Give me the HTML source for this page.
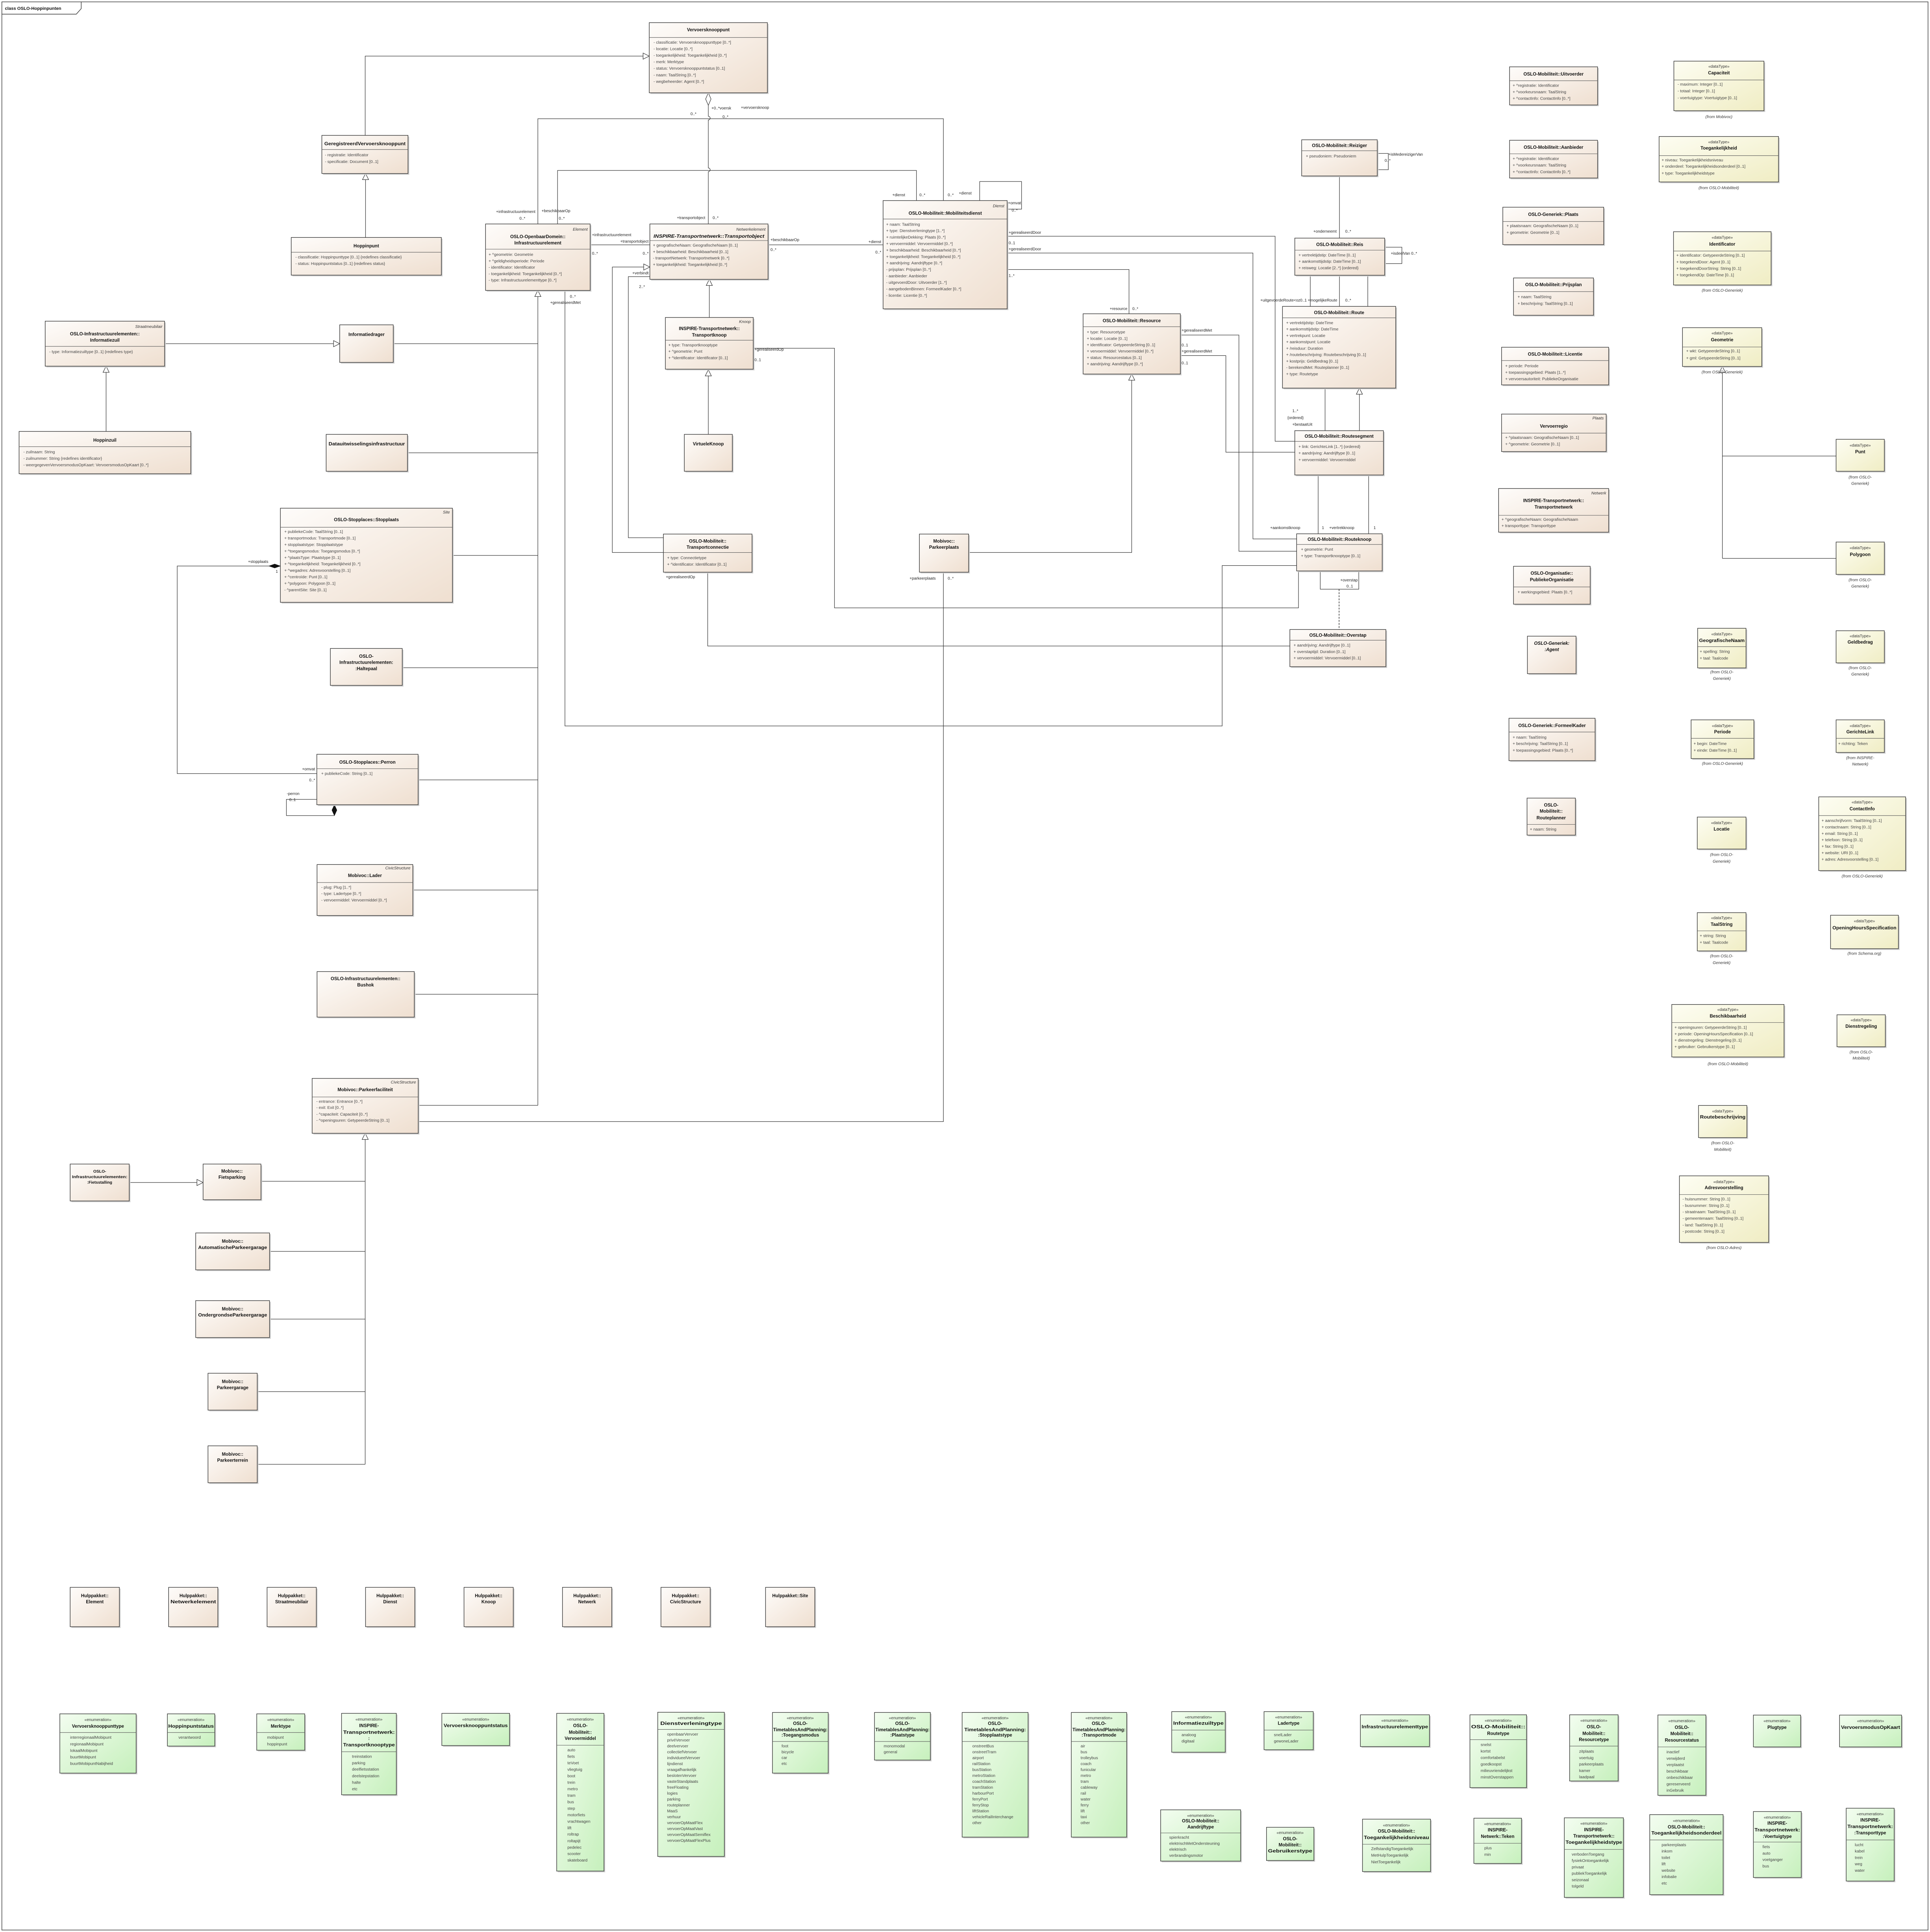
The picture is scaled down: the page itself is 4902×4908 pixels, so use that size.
<!DOCTYPE html>
<html><head><meta charset="utf-8"><style>
html,body{margin:0;padding:0;background:#fff}
svg{display:block}
text{font-family:"Liberation Sans",sans-serif;font-size:3.4px;fill:#333}
.b{fill:url(#gc);stroke:#333;stroke-width:.45}
.d{fill:url(#gd);stroke:#333;stroke-width:.45}
.e{fill:url(#ge);stroke:#333;stroke-width:.45}
.sh{fill:#cfcfcf}
.sp{stroke:#555;stroke-width:.35}
.ln{stroke:#333;stroke-width:.4;fill:none}
.ds{stroke:#333;stroke-width:.5;fill:none;stroke-dasharray:1.5 1}
.tr{fill:#fff;stroke:#333;stroke-width:.4}
.fd{fill:#111;stroke:#111;stroke-width:.3}
.t{font-weight:bold;text-anchor:middle;font-size:3.7px;fill:#111}
.ti{font-weight:bold;font-style:italic;text-anchor:middle;font-size:3.7px;fill:#111}
.n{text-anchor:middle;font-size:3.3px}
.i{font-style:italic;text-anchor:end;font-size:3.3px}
.f{font-style:italic;text-anchor:middle;font-size:3.3px}
.l{font-size:3.2px;fill:#222}
.le{font-size:3.2px;fill:#222;text-anchor:end}
.a{font-size:3.3px;fill:#444}
</style></head><body>
<svg xmlns="http://www.w3.org/2000/svg" width="4902" height="4908" viewBox="0 0 1568.1 1570.1" preserveAspectRatio="none">
<defs>
<linearGradient id="gc" x1="0" y1="0" x2="1" y2="1"><stop offset="0" stop-color="#fefcfa"/><stop offset="1" stop-color="#efdfd0"/></linearGradient>
<linearGradient id="gd" x1="0" y1="0" x2="1" y2="1"><stop offset="0" stop-color="#fdfdf2"/><stop offset="1" stop-color="#f0edc4"/></linearGradient>
<linearGradient id="ge" x1="0" y1="0" x2="1" y2="1"><stop offset="0" stop-color="#f3fdf0"/><stop offset="1" stop-color="#c6f0bc"/></linearGradient>
</defs>
<rect x="0" y="0" width="1568.1" height="1570.1" fill="#fff"/>
<!-- frame -->
<rect x="1.5" y="1.5" width="1565" height="1567" fill="none" stroke="#444" stroke-width=".5"/>
<path d="M1.5 11.5 H62 L66 7 V1.5" fill="none" stroke="#444" stroke-width=".5"/>
<text x="4" y="8" style="font-weight:bold;font-size:3.6px;fill:#111">class OSLO-Hoppinpunten</text>

<!-- ============ CONNECTORS ============ -->
<path class="ln" d="M296.7 110 V45.6 H522.5"/><polygon class="tr" points="527.5,45.6 522.5,43.1 522.5,48.1"/>
<path class="ln" d="M297 193 V146"/><polygon class="tr" points="297,141 294.5,146 299.5,146"/>
<polygon class="tr" points="575.5,75.4 573.3,80.5 575.5,85.6 577.7,80.5"/>
<path class="ln" d="M575.5 85.6 V94.5 A1.5 1.5 0 0 1 575.5 97.5 V136.5 A1.5 1.5 0 0 1 575.5 139.5 V182"/>
<path class="ln" d="M437 182 V96.5 H766.5 V163"/>
<path class="ln" d="M453 182 V138.5 H744.6 V163"/>
<path class="ln" d="M796 163 V147.5 H830 V170 H818"/>
<path class="ln" d="M479.4 199 H528"/>
<path class="ln" d="M576.3 258 V232"/><polygon class="tr" points="576.3,227 573.8,232 578.8,232"/>
<path class="ln" d="M575.5 353 V305.5"/><polygon class="tr" points="575.5,300.5 573,305.5 578,305.5"/>
<path class="ln" d="M539 449 H497.5 V217 H523"/><polygon class="tr" points="528,217 523,214.5 523,219.5"/>
<path class="ln" d="M539 437 H510.5 V224.8 H528"/>
<path class="ln" d="M612 283 H678 V494 H1055 V464"/>
<path class="ln" d="M575 465 V525 H1048"/>
<path class="ln" d="M766.5 465 V911.5 H339.8"/>
<path class="ln" d="M787 449 H919.5 V309"/><polygon class="tr" points="919.5,304 917,309 922,309"/>
<path class="ln" d="M624 199 H717.5"/>
<path class="ln" d="M818 192 H1036 V358.6 H1052"/>
<path class="ln" d="M818 205.6 H1018 V438 H1053.5"/>
<path class="ln" d="M818 219 H917.3 V255"/>
<path class="ln" d="M959 272.3 H1006.6 V448 H1053.5"/>
<path class="ln" d="M959 289 H996 V367.5 H1052"/>
<path class="ln" d="M459 236 V590 H993 V459.6 H1053.5"/>
<path class="ln" d="M1088.3 143 V193.5"/>
<path class="ln" d="M1119 124.7 H1128 V137.9 H1119"/>
<path class="ln" d="M1125 200.9 H1139 V214.2 H1125"/>
<path class="ln" d="M1064.6 223.7 V249 M1088.3 223.7 V249 M1111.3 223.7 V249"/>
<path class="ln" d="M1076.6 315.4 V350"/>
<path class="ln" d="M1104.5 350 V320.4"/><polygon class="tr" points="1104.5,315.4 1102,320.4 1107,320.4"/>
<path class="ln" d="M1071 386 V433.8 M1112 386 V433.8"/>
<path class="ln" d="M1072.7 464 V478.8 H1104 V464"/>
<path class="ds" d="M1088 478.8 V511.6"/>
<path class="ln" d="M218.5 460 H144 V628.7 H257.4"/><polygon class="fd" points="227.8,460 223.2,458.4 218.5,460 223.2,461.6"/>
<path class="ln" d="M257.4 649.6 H232.7 V662.8 H271.7"/><polygon class="fd" points="271.7,654 273.7,658.4 271.7,662.8 269.7,658.4"/>
<polygon class="tr" points="437,236 434.5,241 439.5,241"/>
<path class="ln" d="M437 241 V898.3"/>
<path class="ln" d="M319.5 279.3 H437 M331 368 H437 M367.6 451.4 H437 M326.8 542.7 H437 M339.7 633.8 H437 M335.4 723.3 H437 M336.7 808 H437 M339.8 898.3 H437"/>
<path class="ln" d="M133.8 279.3 H271"/><polygon class="tr" points="276,279.3 271,276.8 271,281.8"/>
<path class="ln" d="M86.2 350.6 V302.6"/><polygon class="tr" points="86.2,297.6 83.7,302.6 88.7,302.6"/>
<polygon class="tr" points="296.7,921 294.2,926 299.2,926"/>
<path class="ln" d="M296.7 926 V1190 M212 960 H296.7 M219 1017 H296.7 M219 1072 H296.7 M209 1131 H296.7 M209 1190 H296.7"/>
<path class="ln" d="M105 961 H160"/><polygon class="tr" points="165,961 160,958.5 160,963.5"/>
<polygon class="tr" points="1399.4,297.8 1396.9,302.8 1401.9,302.8"/>
<path class="ln" d="M1399.4 302.8 V453.8 M1399.4 370.6 H1491.8 M1399.4 453.8 H1491.8"/>

<!-- connector labels -->
<text class="le" x="435" y="173">+infrastructuurelement</text><text class="l" x="422" y="178.5">0..*</text>
<text class="l" x="440" y="172.4">+beschikbaarOp</text><text class="l" x="454" y="178.5">0..*</text>
<text class="l" x="481" y="192">+infrastructuurelement</text><text class="le" x="527" y="197.3">+transportobject</text>
<text class="l" x="481" y="207">0..*</text><text class="le" x="527" y="207">0..*</text>
<text class="le" x="573" y="178">+transportobject</text><text class="l" x="579" y="178">0..*</text>
<text class="le" x="527" y="223">+verbindt</text><text class="le" x="524" y="234">2..*</text>
<text class="l" x="561" y="93.5">0..*</text><text class="l" x="578" y="89">+0..*voersk</text><text class="l" x="602" y="88.5">+vervoersknoop</text><text class="l" x="587" y="96">0..*</text>
<text class="l" x="626" y="196">+beschikbaarOp</text><text class="l" x="626" y="204">0..*</text>
<text class="le" x="716" y="197.5">+dienst</text><text class="le" x="716" y="206">0..*</text>
<text class="l" x="725" y="159.5">+dienst</text><text class="l" x="747" y="159.5">0..*</text><text class="l" x="770" y="159.5">0..*</text><text class="l" x="779" y="158">+dienst</text>
<text class="l" x="819" y="166">+omvat</text><text class="l" x="822" y="172">0..*</text>
<text class="l" x="819.5" y="190">+gerealiseerdDoor</text><text class="l" x="819.5" y="198.5">0..1</text><text class="l" x="819.5" y="203.5">+gerealiseerdDoor</text><text class="l" x="819.5" y="225">1..*</text>
<text class="le" x="916" y="252">+resource</text><text class="l" x="920" y="252">0..*</text>
<text class="l" x="960" y="269.5">+gerealiseerdMet</text><text class="l" x="960" y="281.5">0..1</text><text class="l" x="960" y="286.5">+gerealiseerdMet</text><text class="l" x="960" y="296">0..1</text>
<text class="l" x="1128" y="126.5">+isMedereizigerVan</text><text class="l" x="1125" y="131.5">0..*</text>
<text class="le" x="1086" y="189">+onderneemt</text><text class="l" x="1093" y="189">0..*</text>
<text class="l" x="1130" y="207">+isdeelVan 0..*</text>
<text class="l" x="1024" y="245">+uitgevoerdeRoute&lt;oz0..1 +mogelijkeRoute</text><text class="l" x="1093" y="245">0..*</text>
<text class="l" x="1050" y="335">1..*</text><text class="l" x="1046" y="340.5">{ordered}</text><text class="l" x="1050" y="346">+bestaatUit</text>
<text class="l" x="1032" y="430">+aankomstknoop</text><text class="l" x="1074" y="430">1</text><text class="l" x="1080" y="430">+vertrekknoop</text><text class="l" x="1116" y="430">1</text>
<text class="l" x="1089" y="472.5">+overstap</text><text class="l" x="1094" y="477.5">0..1</text>
<text class="l" x="613" y="285">+gerealiseerdOp</text><text class="l" x="613" y="293.5">0..1</text>
<text class="l" x="541" y="470">+gerealiseerdOp</text>
<text class="l" x="447" y="247">+gerealiseerdMet</text><text class="l" x="463" y="242">0..*</text>
<text class="l" x="739" y="471">+parkeerplaats</text><text class="l" x="770" y="471">0..*</text>
<text class="le" x="218" y="457.5">+stopplaats</text><text class="l" x="224" y="465.5">1</text>
<text class="le" x="256" y="626">+omvat</text><text class="le" x="256" y="635">0..*</text>
<text class="l" x="233" y="646">-perron</text><text class="l" x="235" y="651">0..1</text>

<!-- ============ CLASSES ============ -->
<rect class="sh" x="528.5" y="19.4" width="96" height="57"/><rect class="b" x="527.5" y="18.4" width="96" height="57"/><line class="sp" x1="527.5" x2="623.5" y1="30.5" y2="30.5"/>
<text class="t" x="575.5" y="25.5">Vervoersknooppunt</text>
<text class="a" x="531" y="35.5">-  classificatie: Vervoersknooppunttype [0..*]</text><text class="a" x="531" y="40.8">-  locatie: Locatie [0..*]</text><text class="a" x="531" y="46.1">-  toegankelijkheid: Toegankelijkheid [0..*]</text><text class="a" x="531" y="51.4">-  merk: Merktype</text><text class="a" x="531" y="56.7">-  status: Vervoersknooppuntstatus [0..1]</text><text class="a" x="531" y="62">-  naam: TaalString [0..*]</text><text class="a" x="531" y="67.3">-  wegbeheerder: Agent [0..*]</text>

<rect class="sh" x="262.5" y="111" width="70" height="31"/><rect class="b" x="261.5" y="110" width="70" height="31"/><line class="sp" x1="261.5" x2="331.5" y1="121.5" y2="121.5"/>
<text class="t" x="296.5" y="118" textLength="66" lengthAdjust="spacingAndGlyphs">GeregistreerdVervoersknooppunt</text>
<text class="a" x="264" y="127">-  registratie: Identificator</text><text class="a" x="264" y="132.5">-  specificatie: Document [0..1]</text>

<rect class="sh" x="237.6" y="194" width="122" height="30.6"/><rect class="b" x="236.6" y="193" width="122" height="30.6"/><line class="sp" x1="236.6" x2="358.6" y1="205" y2="205"/>
<text class="t" x="297.6" y="201">Hoppinpunt</text>
<text class="a" x="240" y="210">-  classificatie: Hoppinpunttype [0..1] {redefines classificatie}</text><text class="a" x="240" y="215.3">-  status: Hoppinpuntstatus [0..1] {redefines status}</text>

<rect class="sh" x="37.7" y="262" width="97" height="36.6"/><rect class="b" x="36.7" y="261" width="97" height="36.6"/><line class="sp" x1="36.7" x2="133.7" y1="281.5" y2="281.5"/>
<text class="i" x="132" y="266.5">Straatmeubilair</text><text class="t" x="85.2" y="272.5">OSLO-Infrastructuurelementen::</text><text class="t" x="85.2" y="277.7">Informatiezuil</text>
<text class="a" x="40" y="287">-  type: Informatiezuiltype [0..1] {redefines type}</text>

<rect class="sh" x="277" y="265" width="43.5" height="30.5"/><rect class="b" x="276" y="264" width="43.5" height="30.5"/><text class="t" x="297.8" y="273">Informatiedrager</text>

<rect class="sh" x="16.5" y="351.6" width="139.5" height="34.4"/><rect class="b" x="15.5" y="350.6" width="139.5" height="34.4"/><line class="sp" x1="15.5" x2="155" y1="363" y2="363"/>
<text class="t" x="85.2" y="359">Hoppinzuil</text>
<text class="a" x="19" y="368.3">-  zuilnaam: String</text><text class="a" x="19" y="373.6">-  zuilnummer: String {redefines identificator}</text><text class="a" x="19" y="378.9">-  weergegevenVervoersmodusOpKaart: VervoersmodusOpKaart [0..*]</text>

<rect class="sh" x="266" y="354" width="66" height="30"/><rect class="b" x="265" y="353" width="66" height="30"/><text class="t" x="298" y="362" textLength="62" lengthAdjust="spacingAndGlyphs">Datauitwisselingsinfrastructuur</text>

<rect class="sh" x="395.5" y="183" width="85" height="54"/><rect class="b" x="394.5" y="182" width="85" height="54"/><line class="sp" x1="394.5" x2="479.5" y1="202.5" y2="202.5"/>
<text class="i" x="477.5" y="187.5">Element</text><text class="t" x="437" y="193.5">OSLO-OpenbaarDomein::</text><text class="t" x="437" y="198.7">Infrastructuurelement</text>
<text class="a" x="397" y="208">+  ^geometrie: Geometrie</text><text class="a" x="397" y="213.2">+  ^geldigheidsperiode: Periode</text><text class="a" x="397" y="218.4">-  identificator: Identificator</text><text class="a" x="397" y="223.6">-  toegankelijkheid: Toegankelijkheid [0..*]</text><text class="a" x="397" y="228.8">-  type: Infrastructuurelementtype [0..*]</text>

<rect class="sh" x="529" y="183" width="96" height="45"/><rect class="b" x="528" y="182" width="96" height="45"/><line class="sp" x1="528" x2="624" y1="195.5" y2="195.5"/>
<text class="i" x="622" y="187.5">Netwerkelement</text><text class="ti" x="576" y="193.3" textLength="90" lengthAdjust="spacingAndGlyphs">INSPIRE-Transportnetwerk::Transportobject</text>
<text class="a" x="530.5" y="200.5">+  geografischeNaam: GeografischeNaam [0..1]</text><text class="a" x="530.5" y="205.7">+  beschikbaarheid: Beschikbaarheid [0..1]</text><text class="a" x="530.5" y="210.9">-  transportNetwerk: Transportnetwerk [0..*]</text><text class="a" x="530.5" y="216.1">+  toegankelijkheid: Toegankelijkheid [0..*]</text>

<rect class="sh" x="718.5" y="164" width="100.8" height="88"/><rect class="b" x="717.5" y="163" width="100.8" height="88"/><line class="sp" x1="717.5" x2="818.3" y1="178" y2="178"/>
<text class="i" x="816" y="168.5">Dienst</text><text class="t" x="768" y="174.5">OSLO-Mobiliteit::Mobiliteitsdienst</text>
<text class="a" x="720" y="183.4">+  naam: TaalString</text><text class="a" x="720" y="188.65">+  type: Dienstverleningtype [1..*]</text><text class="a" x="720" y="193.9">+  ruimtelijkeDekking: Plaats [0..*]</text><text class="a" x="720" y="199.15">+  vervoermiddel: Vervoermiddel [0..*]</text><text class="a" x="720" y="204.4">+  beschikbaarheid: Beschikbaarheid [0..*]</text><text class="a" x="720" y="209.65">+  toegankelijkheid: Toegankelijkheid [0..*]</text><text class="a" x="720" y="214.9">+  aandrijving: Aandrijftype [0..*]</text><text class="a" x="720" y="220.15">-  prijsplan: Prijsplan [0..*]</text><text class="a" x="720" y="225.4">-  aanbieder: Aanbieder</text><text class="a" x="720" y="230.65">-  uitgevoerdDoor: Uitvoerder [1..*]</text><text class="a" x="720" y="235.9">-  aangebodenBinnen: FormeelKader [0..*]</text><text class="a" x="720" y="241.15">-  licentie: Licentie [0..*]</text>

<rect class="sh" x="541.6" y="259" width="71.4" height="42"/><rect class="b" x="540.6" y="258" width="71.4" height="42"/><line class="sp" x1="540.6" x2="612" y1="276.5" y2="276.5"/>
<text class="i" x="610" y="262.5">Knoop</text><text class="t" x="576.3" y="268.3">INSPIRE-Transportnetwerk::</text><text class="t" x="576.3" y="273.5">Transportknoop</text>
<text class="a" x="543" y="281.5">+  type: Transportknooptype</text><text class="a" x="543" y="286.7">+  ^geometrie: Punt</text><text class="a" x="543" y="291.9">+  ^identificator: Identificator [0..1]</text>

<rect class="sh" x="557" y="354" width="39" height="30"/><rect class="b" x="556" y="353" width="39" height="30"/><text class="t" x="575.5" y="362">VirtueleKnoop</text>

<rect class="sh" x="540" y="435" width="72" height="31"/><rect class="b" x="539" y="434" width="72" height="31"/><line class="sp" x1="539" x2="611" y1="449" y2="449"/>
<text class="t" x="575" y="441">OSLO-Mobiliteit::</text><text class="t" x="575" y="446">Transportconnectie</text>
<text class="a" x="542" y="454.5">+  type: Connectietype</text><text class="a" x="542" y="459.7">+  ^identificator: Identificator [0..1]</text>

<rect class="sh" x="748" y="435" width="40" height="31"/><rect class="b" x="747" y="434" width="40" height="31"/><text class="t" x="767" y="441">Mobivoc::</text><text class="t" x="767" y="446">Parkeerplaats</text>

<rect class="sh" x="881" y="256" width="79" height="49"/><rect class="b" x="880" y="255" width="79" height="49"/><line class="sp" x1="880" x2="959" y1="265.5" y2="265.5"/>
<text class="t" x="919.5" y="261.8">OSLO-Mobiliteit::Resource</text>
<text class="a" x="883" y="271">+  type: Resourcetype</text><text class="a" x="883" y="276.2">+  locatie: Locatie [0..1]</text><text class="a" x="883" y="281.3">+  identificator: GetypeerdeString [0..1]</text><text class="a" x="883" y="286.5">+  vervoermiddel: Vervoermiddel [0..*]</text><text class="a" x="883" y="291.7">+  status: Resourcestatus [0..1]</text><text class="a" x="883" y="296.9">+  aandrijving: Aandrijftype [0..*]</text>

<rect class="sh" x="1058.6" y="114.6" width="61.4" height="29.4"/><rect class="b" x="1057.6" y="113.6" width="61.4" height="29.4"/><line class="sp" x1="1057.6" x2="1119" y1="122.5" y2="122.5"/>
<text class="t" x="1088.3" y="119.5">OSLO-Mobiliteit::Reiziger</text><text class="a" x="1061" y="128">+   pseudoniem: Pseudoniem</text>

<rect class="sh" x="1053" y="194.5" width="73" height="30.2"/><rect class="b" x="1052" y="193.5" width="73" height="30.2"/><line class="sp" x1="1052" x2="1125" y1="203.3" y2="203.3"/>
<text class="t" x="1088.5" y="200">OSLO-Mobiliteit::Reis</text>
<text class="a" x="1055" y="208.4">+   vertrektijdstip: DateTime [0..1]</text><text class="a" x="1055" y="213.6">+   aankomsttijdstip: DateTime [0..1]</text><text class="a" x="1055" y="218.8">+   reisweg: Locatie [2..*] {ordered}</text>

<rect class="sh" x="1043" y="250" width="92" height="66.4"/><rect class="b" x="1042" y="249" width="92" height="66.4"/><line class="sp" x1="1042" x2="1134" y1="258.3" y2="258.3"/>
<text class="t" x="1088" y="255.3">OSLO-Mobiliteit::Route</text>
<text class="a" x="1045" y="263.4">+   vertrektijdstip: DateTime</text><text class="a" x="1045" y="268.6">+   aankomsttijdstip: DateTime</text><text class="a" x="1045" y="273.8">+   vertrekpunt: Locatie</text><text class="a" x="1045" y="279">+   aankomstpunt: Locatie</text><text class="a" x="1045" y="284.2">+   /reisduur: Duration</text><text class="a" x="1045" y="289.4">+   /routebeschrijving: Routebeschrijving [0..1]</text><text class="a" x="1045" y="294.6">+   kostprijs: Geldbedrag [0..1]</text><text class="a" x="1045" y="299.8">-   berekendMet: Routeplanner [0..1]</text><text class="a" x="1045" y="305">+   type: Routetype</text>

<rect class="sh" x="1053" y="351" width="72" height="36"/><rect class="b" x="1052" y="350" width="72" height="36"/><line class="sp" x1="1052" x2="1124" y1="358.7" y2="358.7"/>
<text class="t" x="1088" y="355.8">OSLO-Mobiliteit::Routesegment</text>
<text class="a" x="1055" y="364">+   link: GerichteLink [1..*] {ordered}</text><text class="a" x="1055" y="369.4">+   aandrijving: Aandrijftype [0..1]</text><text class="a" x="1055" y="374.7">+   vervoermiddel: Vervoermiddel</text>

<rect class="sh" x="1054.5" y="434.8" width="69.5" height="30.2"/><rect class="b" x="1053.5" y="433.8" width="69.5" height="30.2"/><line class="sp" x1="1053.5" x2="1123" y1="442.5" y2="442.5"/>
<text class="t" x="1088.3" y="439.6">OSLO-Mobiliteit::Routeknoop</text>
<text class="a" x="1057" y="447.5">+   geometrie: Punt</text><text class="a" x="1057" y="452.8">+   type: Transportknooptype [0..1]</text>

<rect class="sh" x="1049" y="512.6" width="78" height="30.2"/><rect class="b" x="1048" y="511.6" width="78" height="30.2"/><line class="sp" x1="1048" x2="1126" y1="520.3" y2="520.3"/>
<text class="t" x="1087" y="517.4">OSLO-Mobiliteit::Overstap</text>
<text class="a" x="1051" y="525.5">+   aandrijving: Aandrijftype [0..1]</text><text class="a" x="1051" y="530.7">+   overstaptijd: Duration [0..1]</text><text class="a" x="1051" y="535.9">+   vervoermiddel: Vervoermiddel [0..1]</text>

<rect class="sh" x="228.8" y="414" width="139.8" height="76.5"/><rect class="b" x="227.8" y="413" width="139.8" height="76.5"/><line class="sp" x1="227.8" x2="367.6" y1="428.5" y2="428.5"/>
<text class="i" x="365.5" y="417.4">Site</text><text class="t" x="297.7" y="423.5">OSLO-Stopplaces::Stopplaats</text>
<text class="a" x="231" y="433.2">+    publiekeCode: TaalString [0..1]</text><text class="a" x="231" y="438.45">+    transportmodus: Transportmode [0..1]</text><text class="a" x="231" y="443.7">+    stopplaatstype: Stopplaatstype</text><text class="a" x="231" y="448.95">+    ^toegangsmodus: Toegangsmodus [0..*]</text><text class="a" x="231" y="454.2">+    ^plaatsType: Plaatstype [0..1]</text><text class="a" x="231" y="459.45">+    ^toegankelijkheid: Toegankelijkheid [0..*]</text><text class="a" x="231" y="464.7">+    ^wegadres: Adresvoorstelling [0..1]</text><text class="a" x="231" y="469.95">+    ^centroïde: Punt [0..1]</text><text class="a" x="231" y="475.2">+    ^polygoon: Polygoon [0..1]</text><text class="a" x="231" y="480.45">-    ^parentSite: Site [0..1]</text>

<rect class="sh" x="269.4" y="528" width="58.4" height="30"/><rect class="b" x="268.4" y="527" width="58.4" height="30"/>
<text class="t" x="297.6" y="534.5">OSLO-</text><text class="t" x="297.6" y="539.5">Infrastructuurelementen:</text><text class="t" x="297.6" y="544.6">:Haltepaal</text>

<rect class="sh" x="258.4" y="614" width="82.3" height="41"/><rect class="b" x="257.4" y="613" width="82.3" height="41"/><line class="sp" x1="257.4" x2="339.7" y1="624.7" y2="624.7"/>
<text class="t" x="298.5" y="620.6">OSLO-Stopplaces::Perron</text><text class="a" x="261" y="629.8">+    publiekeCode: String [0..1]</text>

<rect class="sh" x="258.6" y="703.6" width="77.8" height="41.4"/><rect class="b" x="257.6" y="702.6" width="77.8" height="41.4"/><line class="sp" x1="257.6" x2="335.4" y1="717.2" y2="717.2"/>
<text class="i" x="333.5" y="706.5">CivicStructure</text><text class="t" x="296.5" y="712.8">Mobivoc::Lader</text>
<text class="a" x="261" y="722.2">-    plug: Plug [1..*]</text><text class="a" x="261" y="727.3">-    type: Ladertype [0..*]</text><text class="a" x="261" y="732.6">-    vervoermiddel: Vervoermiddel [0..*]</text>

<rect class="sh" x="258.6" y="790.6" width="79" height="37"/><rect class="b" x="257.6" y="789.6" width="79" height="37"/>
<text class="t" x="297" y="796.6">OSLO-Infrastructuurelementen::</text><text class="t" x="297" y="801.7">Bushok</text>

<rect class="sh" x="254.6" y="877.4" width="86.2" height="44.6"/><rect class="b" x="253.6" y="876.4" width="86.2" height="44.6"/><line class="sp" x1="253.6" x2="339.8" y1="891.5" y2="891.5"/>
<text class="i" x="338" y="880.6">CivicStructure</text><text class="t" x="296.7" y="886.8">Mobivoc::Parkeerfaciliteit</text>
<text class="a" x="257" y="896.2">-    entrance: Entrance [0..*]</text><text class="a" x="257" y="901.2">-    exit: Exit [0..*]</text><text class="a" x="257" y="906.6">-    ^capaciteit: Capaciteit [0..*]</text><text class="a" x="257" y="911.5">-    ^openingsuren: GetypeerdeString [0..1]</text>

<rect class="sh" x="58" y="947" width="48" height="30"/><rect class="b" x="57" y="946" width="48" height="30"/>
<text class="t" x="81" y="953" style="font-size:3.3px">OSLO-</text><text class="t" x="81" y="957.5" style="font-size:3.3px" textLength="45" lengthAdjust="spacingAndGlyphs">Infrastructuurelementen:</text><text class="t" x="81" y="962" style="font-size:3.3px">:Fietsstalling</text>
<rect class="sh" x="166" y="947" width="47" height="29"/><rect class="b" x="165" y="946" width="47" height="29"/><text class="t" x="188.5" y="953">Mobivoc::</text><text class="t" x="188.5" y="958">Fietsparking</text>
<rect class="sh" x="160" y="1003" width="60" height="30"/><rect class="b" x="159" y="1002" width="60" height="30"/><text class="t" x="189" y="1010">Mobivoc::</text><text class="t" x="189" y="1015" textLength="56" lengthAdjust="spacingAndGlyphs">AutomatischeParkeergarage</text>
<rect class="sh" x="160" y="1058" width="60" height="30"/><rect class="b" x="159" y="1057" width="60" height="30"/><text class="t" x="189" y="1065">Mobivoc::</text><text class="t" x="189" y="1070" textLength="56" lengthAdjust="spacingAndGlyphs">OndergrondseParkeergarage</text>
<rect class="sh" x="170" y="1117" width="40" height="30"/><rect class="b" x="169" y="1116" width="40" height="30"/><text class="t" x="189" y="1124">Mobivoc::</text><text class="t" x="189" y="1129">Parkeergarage</text>
<rect class="sh" x="170" y="1176" width="40" height="30"/><rect class="b" x="169" y="1175" width="40" height="30"/><text class="t" x="189" y="1183">Mobivoc::</text><text class="t" x="189" y="1188">Parkeerterrein</text>

<!-- right column classes -->
<rect class="sh" x="1227.5" y="55.3" width="71.5" height="31"/><rect class="b" x="1226.5" y="54.3" width="71.5" height="31"/><line class="sp" x1="1226.5" x2="1298" y1="65.6" y2="65.6"/>
<text class="t" x="1262.2" y="61.5">OSLO-Mobiliteit::Uitvoerder</text>
<text class="a" x="1229" y="70.5">+   ^registratie: Identificator</text><text class="a" x="1229" y="75.9">+   ^voorkeursnaam: TaalString</text><text class="a" x="1229" y="81.1">+   ^contactInfo: ContactInfo [0..*]</text>

<rect class="sh" x="1227.5" y="115" width="71.5" height="30.7"/><rect class="b" x="1226.5" y="114" width="71.5" height="30.7"/><line class="sp" x1="1226.5" x2="1298" y1="125" y2="125"/>
<text class="t" x="1262.2" y="121">OSLO-Mobiliteit::Aanbieder</text>
<text class="a" x="1229" y="130">+   ^registratie: Identificator</text><text class="a" x="1229" y="135.4">+   ^voorkeursnaam: TaalString</text><text class="a" x="1229" y="140.7">+   ^contactInfo: ContactInfo [0..*]</text>

<rect class="sh" x="1222" y="169.4" width="82" height="30.4"/><rect class="b" x="1221" y="168.4" width="82" height="30.4"/><line class="sp" x1="1221" x2="1303" y1="180" y2="180"/>
<text class="t" x="1262" y="175.4">OSLO-Generiek::Plaats</text>
<text class="a" x="1224" y="184.6">+   plaatsnaam: GeografischeNaam [0..1]</text><text class="a" x="1224" y="190">+   geometrie: Geometrie [0..1]</text>

<rect class="sh" x="1230.7" y="226.9" width="65" height="30.3"/><rect class="b" x="1229.7" y="225.9" width="65" height="30.3"/><line class="sp" x1="1229.7" x2="1294.7" y1="237" y2="237"/>
<text class="t" x="1262.2" y="232.6">OSLO-Mobiliteit::Prijsplan</text>
<text class="a" x="1233" y="242.4">+   naam: TaalString</text><text class="a" x="1233" y="247.7">+   beschrijving: TaalString [0..1]</text>

<rect class="sh" x="1221" y="283.2" width="87" height="30.6"/><rect class="b" x="1220" y="282.2" width="87" height="30.6"/><line class="sp" x1="1220" x2="1307" y1="293" y2="293"/>
<text class="t" x="1263.5" y="289">OSLO-Mobiliteit::Licentie</text>
<text class="a" x="1223" y="298.4">+   periode: Periode</text><text class="a" x="1223" y="303.7">+   toepassingsgebied: Plaats [1..*]</text><text class="a" x="1223" y="309">+   vervoersautoriteit: PubliekeOrganisatie</text>

<rect class="sh" x="1221" y="337.5" width="85" height="30.5"/><rect class="b" x="1220" y="336.5" width="85" height="30.5"/><line class="sp" x1="1220" x2="1305" y1="352" y2="352"/>
<text class="i" x="1303" y="340.8">Plaats</text><text class="t" x="1262.5" y="347.5">Vervoerregio</text>
<text class="a" x="1223" y="356.7">+   ^plaatsnaam: GeografischeNaam [0..1]</text><text class="a" x="1223" y="362">+   ^geometrie: Geometrie [0..1]</text>

<rect class="sh" x="1218.6" y="398" width="89.4" height="35.5"/><rect class="b" x="1217.6" y="397" width="89.4" height="35.5"/><line class="sp" x1="1217.6" x2="1307" y1="418.8" y2="418.8"/>
<text class="i" x="1305" y="401.8">Netwerk</text><text class="t" x="1262.3" y="408">INSPIRE-Transportnetwerk::</text><text class="t" x="1262.3" y="413.4">Transportnetwerk</text>
<text class="a" x="1220" y="423.2">+  ^geografischeNaam: GeografischeNaam</text><text class="a" x="1220" y="428.4">+  transporttype: Transporttype</text>

<rect class="sh" x="1230.7" y="461.2" width="62.3" height="30.8"/><rect class="b" x="1229.7" y="460.2" width="62.3" height="30.8"/><line class="sp" x1="1229.7" x2="1292" y1="477" y2="477"/>
<text class="t" x="1260.8" y="467">OSLO-Organisatie::</text><text class="t" x="1260.8" y="472.3">PubliekeOrganisatie</text>
<text class="a" x="1233" y="482.2">+   werkingsgebied: Plaats [0..*]</text>

<rect class="sh" x="1242" y="518" width="39.5" height="30.5"/><rect class="b" x="1241" y="517" width="39.5" height="30.5"/>
<text class="ti" x="1260.8" y="524">OSLO-Generiek:</text><text class="ti" x="1260.8" y="529.2">:Agent</text>

<rect class="sh" x="1227" y="584.7" width="70" height="34.5"/><rect class="b" x="1226" y="583.7" width="70" height="34.5"/><line class="sp" x1="1226" x2="1296" y1="594.9" y2="594.9"/>
<text class="t" x="1261" y="590.8">OSLO-Generiek::FormeelKader</text>
<text class="a" x="1229" y="600.3">+   naam: TaalString</text><text class="a" x="1229" y="605.4">+   beschrijving: TaalString [0..1]</text><text class="a" x="1229" y="610.8">+   toepassingsgebied: Plaats [0..*]</text>

<rect class="sh" x="1241.7" y="649.6" width="39.3" height="30.1"/><rect class="b" x="1240.7" y="648.6" width="39.3" height="30.1"/><line class="sp" x1="1240.7" x2="1280" y1="670" y2="670"/>
<text class="t" x="1260.3" y="655.5">OSLO-</text><text class="t" x="1260.3" y="660.5">Mobiliteit::</text><text class="t" x="1260.3" y="665.9">Routeplanner</text>
<text class="a" x="1243" y="675">+   naam: String</text>

<!-- datatypes -->
<rect class="sh" x="1361" y="50.7" width="73.2" height="40.3"/><rect class="d" x="1360" y="49.7" width="73.2" height="40.3"/><line class="sp" x1="1360" x2="1433.2" y1="65" y2="65"/>
<text class="n" x="1396.6" y="55">«dataType»</text><text class="t" x="1396.6" y="60.4">Capaciteit</text>
<text class="a" x="1363" y="69.6">-    maximum: Integer [0..1]</text><text class="a" x="1363" y="75">-    totaal: Integer [0..1]</text><text class="a" x="1363" y="80.6">-    voertuigtype: Voertuigtype [0..1]</text>
<text class="f" x="1396.6" y="96">(from Mobivoc)</text>

<rect class="sh" x="1349" y="111.9" width="97" height="37"/><rect class="d" x="1348" y="110.9" width="97" height="37"/><line class="sp" x1="1348" x2="1445" y1="126.5" y2="126.5"/>
<text class="n" x="1396.5" y="116.4">«dataType»</text><text class="t" x="1396.5" y="121.6">Toegankelijkheid</text>
<text class="a" x="1350" y="131.1">+   niveau: Toegankelijkheidsniveau</text><text class="a" x="1350" y="136.3">+   onderdeel: Toegankelijkheidsonderdeel [0..1]</text><text class="a" x="1350" y="141.8">+   type: Toegankelijkheidstype</text>
<text class="f" x="1396.5" y="153.7">(from OSLO-Mobiliteit)</text>

<rect class="sh" x="1360.7" y="189.3" width="79.3" height="43.3"/><rect class="d" x="1359.7" y="188.3" width="79.3" height="43.3"/><line class="sp" x1="1359.7" x2="1439" y1="204" y2="204"/>
<text class="n" x="1399.3" y="194">«dataType»</text><text class="t" x="1399.3" y="199.6">Identificator</text>
<text class="a" x="1362" y="208.6">+   identificator: GetypeerdeString [0..1]</text><text class="a" x="1362" y="214">+   toegekendDoor: Agent [0..1]</text><text class="a" x="1362" y="219.3">+   toegekendDoorString: String [0..1]</text><text class="a" x="1362" y="224.5">+   toegekendOp: DateTime [0..1]</text>
<text class="f" x="1399.3" y="237">(from OSLO-Generiek)</text>

<rect class="sh" x="1368" y="267.3" width="64.4" height="31.5"/><rect class="d" x="1367" y="266.3" width="64.4" height="31.5"/><line class="sp" x1="1367" x2="1431.4" y1="282" y2="282"/>
<text class="n" x="1399.2" y="271.8">«dataType»</text><text class="t" x="1399.2" y="277.3">Geometrie</text>
<text class="a" x="1370" y="286.3">+   wkt: GetypeerdeString [0..1]</text><text class="a" x="1370" y="292">+   gml: GetypeerdeString [0..1]</text>
<text class="f" x="1399.2" y="303.5">(from OSLO-Generiek)</text>

<rect class="sh" x="1492.8" y="358" width="39.2" height="26"/><rect class="d" x="1491.8" y="357" width="39.2" height="26"/>
<text class="n" x="1511.4" y="363">«dataType»</text><text class="t" x="1511.4" y="368.3">Punt</text><text class="f" x="1511.4" y="388.8">(from OSLO-</text><text class="f" x="1511.4" y="394">Generiek)</text>

<rect class="sh" x="1492.8" y="441.5" width="39.2" height="26.3"/><rect class="d" x="1491.8" y="440.5" width="39.2" height="26.3"/>
<text class="n" x="1511.4" y="446.3">«dataType»</text><text class="t" x="1511.4" y="451.8">Polygoon</text><text class="f" x="1511.4" y="472.3">(from OSLO-</text><text class="f" x="1511.4" y="477.5">Generiek)</text>

<rect class="sh" x="1380.3" y="511.6" width="39.3" height="32.2"/><rect class="d" x="1379.3" y="510.6" width="39.3" height="32.2"/><line class="sp" x1="1379.3" x2="1418.6" y1="525.5" y2="525.5"/>
<text class="n" x="1399" y="516.3">«dataType»</text><text class="t" x="1399" y="521.8" textLength="37" lengthAdjust="spacingAndGlyphs">GeografischeNaam</text>
<text class="a" x="1381" y="530.5">+   spelling: String</text><text class="a" x="1381" y="536">+   taal: Taalcode</text>
<text class="f" x="1399" y="547.2">(from OSLO-</text><text class="f" x="1399" y="552.5">Generiek)</text>

<rect class="sh" x="1492.8" y="513.6" width="39.2" height="26.1"/><rect class="d" x="1491.8" y="512.6" width="39.2" height="26.1"/>
<text class="n" x="1511.4" y="518">«dataType»</text><text class="t" x="1511.4" y="523">Geldbedrag</text><text class="f" x="1511.4" y="543.8">(from OSLO-</text><text class="f" x="1511.4" y="549">Generiek)</text>

<rect class="sh" x="1375" y="586" width="51" height="31.5"/><rect class="d" x="1374" y="585" width="51" height="31.5"/><line class="sp" x1="1374" x2="1425" y1="600" y2="600"/>
<text class="n" x="1399.5" y="590.8">«dataType»</text><text class="t" x="1399.5" y="596">Periode</text>
<text class="a" x="1376" y="605.4">+   begin: DateTime</text><text class="a" x="1376" y="610.8">+   einde: DateTime [0..1]</text>
<text class="f" x="1399.5" y="621.6">(from OSLO-Generiek)</text>

<rect class="sh" x="1492.8" y="586" width="39.2" height="26.5"/><rect class="d" x="1491.8" y="585" width="39.2" height="26.5"/><line class="sp" x1="1491.8" x2="1531" y1="600" y2="600"/>
<text class="n" x="1511.4" y="590.8">«dataType»</text><text class="t" x="1511.4" y="596">GerichteLink</text><text class="a" x="1493.5" y="605.4">+   richting: Teken</text>
<text class="f" x="1511.4" y="617">(from INSPIRE-</text><text class="f" x="1511.4" y="622">Netwerk)</text>

<rect class="sh" x="1478.7" y="648.6" width="70.6" height="59.9"/><rect class="d" x="1477.7" y="647.6" width="70.6" height="59.9"/><line class="sp" x1="1477.7" x2="1548.3" y1="662.8" y2="662.8"/>
<text class="n" x="1513" y="653">«dataType»</text><text class="t" x="1513" y="658.5">ContactInfo</text>
<text class="a" x="1480" y="668">+   aanschrijfvorm: TaalString [0..1]</text><text class="a" x="1480" y="673.2">+   contactnaam: String [0..1]</text><text class="a" x="1480" y="678.5">+   email: String [0..1]</text><text class="a" x="1480" y="683.7">+   telefoon: String [0..1]</text><text class="a" x="1480" y="689">+   fax: String [0..1]</text><text class="a" x="1480" y="694.2">+   website: URI [0..1]</text><text class="a" x="1480" y="699.4">+   adres: Adresvoorstelling [0..1]</text>
<text class="f" x="1513" y="713">(from OSLO-Generiek)</text>

<rect class="sh" x="1380" y="665" width="39.6" height="26"/><rect class="d" x="1379" y="664" width="39.6" height="26"/>
<text class="n" x="1398.8" y="669.7">«dataType»</text><text class="t" x="1398.8" y="675">Locatie</text><text class="f" x="1398.8" y="695.7">(from OSLO-</text><text class="f" x="1398.8" y="701">Generiek)</text>

<rect class="sh" x="1380" y="742.7" width="39.6" height="31.1"/><rect class="d" x="1379" y="741.7" width="39.6" height="31.1"/><line class="sp" x1="1379" x2="1418.6" y1="756.5" y2="756.5"/>
<text class="n" x="1398.8" y="747">«dataType»</text><text class="t" x="1398.8" y="752.5">TaalString</text>
<text class="a" x="1381" y="761.5">+   string: String</text><text class="a" x="1381" y="767">+   taal: Taalcode</text>
<text class="f" x="1398.8" y="778">(from OSLO-</text><text class="f" x="1398.8" y="783.5">Generiek)</text>

<rect class="sh" x="1488.3" y="744.8" width="55.1" height="27.2"/><rect class="d" x="1487.3" y="743.8" width="55.1" height="27.2"/>
<text class="n" x="1514.8" y="749.6">«dataType»</text><text class="t" x="1514.8" y="755.3" textLength="52" lengthAdjust="spacingAndGlyphs">OpeningHoursSpecification</text><text class="f" x="1514.8" y="776">(from Schema.org)</text>

<rect class="sh" x="1359.3" y="817.3" width="91.2" height="42.7"/><rect class="d" x="1358.3" y="816.3" width="91.2" height="42.7"/><line class="sp" x1="1358.3" x2="1449.5" y1="831" y2="831"/>
<text class="n" x="1403.9" y="821.6">«dataType»</text><text class="t" x="1403.9" y="827">Beschikbaarheid</text>
<text class="a" x="1360.5" y="836">+   openingsuren: GetypeerdeString [0..1]</text><text class="a" x="1360.5" y="841.3">+   periode: OpeningHoursSpecification [0..1]</text><text class="a" x="1360.5" y="846.4">+   dienstregeling: Dienstregeling [0..1]</text><text class="a" x="1360.5" y="851.8">+   gebruiker: Gebruikerstype [0..1]</text>
<text class="f" x="1403.9" y="865.6">(from OSLO-Mobiliteit)</text>

<rect class="sh" x="1493.5" y="825.7" width="39.3" height="26"/><rect class="d" x="1492.5" y="824.7" width="39.3" height="26"/>
<text class="n" x="1512.2" y="830">«dataType»</text><text class="t" x="1512.2" y="835.2">Dienstregeling</text><text class="f" x="1512.2" y="856">(from OSLO-</text><text class="f" x="1512.2" y="861">Mobiliteit)</text>

<rect class="sh" x="1381" y="899.4" width="39.3" height="26.1"/><rect class="d" x="1380" y="898.4" width="39.3" height="26.1"/>
<text class="n" x="1399.7" y="904">«dataType»</text><text class="t" x="1399.7" y="909" textLength="37" lengthAdjust="spacingAndGlyphs">Routebeschrijving</text><text class="f" x="1399.7" y="930">(from OSLO-</text><text class="f" x="1399.7" y="935.3">Mobiliteit)</text>

<rect class="sh" x="1365.5" y="956.6" width="72.5" height="54.1"/><rect class="d" x="1364.5" y="955.6" width="72.5" height="54.1"/><line class="sp" x1="1364.5" x2="1437" y1="970.8" y2="970.8"/>
<text class="n" x="1400.7" y="961.4">«dataType»</text><text class="t" x="1400.7" y="966.5">Adresvoorstelling</text>
<text class="a" x="1367" y="975.6">-    huisnummer: String [0..1]</text><text class="a" x="1367" y="980.8">-    busnummer: String [0..1]</text><text class="a" x="1367" y="986">-    straatnaam: TaalString [0..1]</text><text class="a" x="1367" y="991.3">-    gemeentenaam: TaalString [0..1]</text><text class="a" x="1367" y="996.6">-    land: TaalString [0..1]</text><text class="a" x="1367" y="1001.8">-    postcode: String [0..1]</text>
<text class="f" x="1400.7" y="1015">(from OSLO-Adres)</text>

<!-- Hulppakketten -->
<rect class="sh" x="58" y="1291" width="40" height="32"/><rect class="b" x="57" y="1290" width="40" height="32"/><text class="t" x="77" y="1298">Hulppakket::</text><text class="t" x="77" y="1303">Element</text>
<rect class="sh" x="138" y="1291" width="40" height="32"/><rect class="b" x="137" y="1290" width="40" height="32"/><text class="t" x="157" y="1298">Hulppakket::</text><text class="t" x="157" y="1303" textLength="37" lengthAdjust="spacingAndGlyphs">Netwerkelement</text>
<rect class="sh" x="218" y="1291" width="40" height="32"/><rect class="b" x="217" y="1290" width="40" height="32"/><text class="t" x="237" y="1298">Hulppakket::</text><text class="t" x="237" y="1303">Straatmeubilair</text>
<rect class="sh" x="298" y="1291" width="40" height="32"/><rect class="b" x="297" y="1290" width="40" height="32"/><text class="t" x="317" y="1298">Hulppakket::</text><text class="t" x="317" y="1303">Dienst</text>
<rect class="sh" x="378" y="1291" width="40" height="32"/><rect class="b" x="377" y="1290" width="40" height="32"/><text class="t" x="397" y="1298">Hulppakket::</text><text class="t" x="397" y="1303">Knoop</text>
<rect class="sh" x="458" y="1291" width="40" height="32"/><rect class="b" x="457" y="1290" width="40" height="32"/><text class="t" x="477" y="1298">Hulppakket::</text><text class="t" x="477" y="1303">Netwerk</text>
<rect class="sh" x="538" y="1291" width="40" height="32"/><rect class="b" x="537" y="1290" width="40" height="32"/><text class="t" x="557" y="1298">Hulppakket::</text><text class="t" x="557" y="1303">CivicStructure</text>
<rect class="sh" x="623" y="1291" width="40" height="32"/><rect class="b" x="622" y="1290" width="40" height="32"/><text class="t" x="642" y="1298">Hulppakket::Site</text>

<!-- Enumerations row 1 -->
<rect class="sh" x="49.6" y="1393.8" width="62" height="48.2"/><rect class="e" x="48.6" y="1392.8" width="62" height="48.2"/><line class="sp" x1="48.6" x2="110.6" y1="1408" y2="1408"/>
<text class="n" x="79.6" y="1398.6">«enumeration»</text><text class="t" x="79.6" y="1404">Vervoersknooppunttype</text>
<text class="a" x="57" y="1413.1">interregionaalMobipunt</text><text class="a" x="57" y="1418.4">regionaalMobipunt</text><text class="a" x="57" y="1423.8">lokaalMobipunt</text><text class="a" x="57" y="1429">buurtMobipunt</text><text class="a" x="57" y="1434.3">buurtMobipuntNabijheid</text>

<rect class="sh" x="137" y="1393.8" width="38.5" height="26.2"/><rect class="e" x="136" y="1392.8" width="38.5" height="26.2"/><line class="sp" x1="136" x2="174.5" y1="1408" y2="1408"/>
<text class="n" x="155.2" y="1398.6">«enumeration»</text><text class="t" x="155.2" y="1404" textLength="37" lengthAdjust="spacingAndGlyphs">Hoppinpuntstatus</text><text class="a" x="145" y="1413.1">verantwoord</text>

<rect class="sh" x="209.6" y="1393.8" width="39" height="29.6"/><rect class="e" x="208.6" y="1392.8" width="39" height="29.6"/><line class="sp" x1="208.6" x2="247.6" y1="1408" y2="1408"/>
<text class="n" x="228.1" y="1398.6">«enumeration»</text><text class="t" x="228.1" y="1404">Merktype</text><text class="a" x="217" y="1413.1">mobipunt</text><text class="a" x="217" y="1418.4">hoppinpunt</text>

<rect class="sh" x="278.5" y="1393.4" width="44.5" height="66.2"/><rect class="e" x="277.5" y="1392.4" width="44.5" height="66.2"/><line class="sp" x1="277.5" x2="322" y1="1423.6" y2="1423.6"/>
<text class="n" x="299.8" y="1398.3">«enumeration»</text><text class="t" x="299.8" y="1403.6">INSPIRE-</text><text class="t" x="299.8" y="1409" textLength="42" lengthAdjust="spacingAndGlyphs">Transportnetwerk:</text><text class="t" x="299.8" y="1414">:</text><text class="t" x="299.8" y="1419.3" textLength="42" lengthAdjust="spacingAndGlyphs">Transportknooptype</text>
<text class="a" x="286" y="1428.5">treinstation</text><text class="a" x="286" y="1433.8">parking</text><text class="a" x="286" y="1439">deelfietsstation</text><text class="a" x="286" y="1444.3">deelstepstation</text><text class="a" x="286" y="1449.6">halte</text><text class="a" x="286" y="1454.9">etc</text>

<rect class="sh" x="360" y="1393.4" width="55" height="26.2"/><rect class="e" x="359" y="1392.4" width="55" height="26.2"/>
<text class="n" x="386.5" y="1398.3">«enumeration»</text><text class="t" x="386.5" y="1403.6" textLength="52" lengthAdjust="spacingAndGlyphs">Vervoersknooppuntstatus</text>

<rect class="sh" x="453.3" y="1393.4" width="38.4" height="128.2"/><rect class="e" x="452.3" y="1392.4" width="38.4" height="128.2"/><line class="sp" x1="452.3" x2="490.7" y1="1418.3" y2="1418.3"/>
<text class="n" x="471.5" y="1398.3">«enumeration»</text><text class="t" x="471.5" y="1403.6">OSLO-</text><text class="t" x="471.5" y="1409">Mobiliteit::</text><text class="t" x="471.5" y="1414">Vervoermiddel</text>
<text class="a" x="461" y="1423.3">auto</text><text class="a" x="461" y="1428.6">fiets</text><text class="a" x="461" y="1433.8">teVoet</text><text class="a" x="461" y="1439.1">vliegtuig</text><text class="a" x="461" y="1444.4">boot</text><text class="a" x="461" y="1449.7">trein</text><text class="a" x="461" y="1454.9">metro</text><text class="a" x="461" y="1460.2">tram</text><text class="a" x="461" y="1465.5">bus</text><text class="a" x="461" y="1470.7">step</text><text class="a" x="461" y="1476">motorfiets</text><text class="a" x="461" y="1481.3">vrachtwagen</text><text class="a" x="461" y="1486.6">lift</text><text class="a" x="461" y="1491.8">roltrap</text><text class="a" x="461" y="1497.1">roltapijt</text><text class="a" x="461" y="1502.4">pedelec</text><text class="a" x="461" y="1507.6">scooter</text><text class="a" x="461" y="1512.9">skateboard</text>

<rect class="sh" x="535.4" y="1392.5" width="54.1" height="117.2"/><rect class="e" x="534.4" y="1391.5" width="54.1" height="117.2"/><line class="sp" x1="534.4" x2="588.5" y1="1405.5" y2="1405.5"/>
<text class="n" x="561.5" y="1397.2">«enumeration»</text><text class="t" x="561.5" y="1401.8" textLength="50" lengthAdjust="spacingAndGlyphs">Dienstverleningtype</text>
<text class="a" x="542" y="1410.4">openbaarVervoer</text><text class="a" x="542" y="1415.2">privéVervoer</text><text class="a" x="542" y="1420">deelvervoer</text><text class="a" x="542" y="1424.8">collectiefVervoer</text><text class="a" x="542" y="1429.6">individueelVervoer</text><text class="a" x="542" y="1434.4">lijndienst</text><text class="a" x="542" y="1439.2">vraagafhankelijk</text><text class="a" x="542" y="1444">beslotenVervoer</text><text class="a" x="542" y="1448.8">vasteStandplaats</text><text class="a" x="542" y="1453.6">freeFloating</text><text class="a" x="542" y="1458.4">logies</text><text class="a" x="542" y="1463.2">parking</text><text class="a" x="542" y="1468">routeplanner</text><text class="a" x="542" y="1472.8">MaaS</text><text class="a" x="542" y="1477.6">verhuur</text><text class="a" x="542" y="1482.4">vervoerOpMaatFlex</text><text class="a" x="542" y="1487.2">vervoerOpMaatVast</text><text class="a" x="542" y="1492">vervoerOpMaatSemiflex</text><text class="a" x="542" y="1496.8">vervoerOpMaatFlexPlus</text>

<rect class="sh" x="628.6" y="1392.7" width="45.3" height="49.3"/><rect class="e" x="627.6" y="1391.7" width="45.3" height="49.3"/><line class="sp" x1="627.6" x2="672.9" y1="1415.3" y2="1415.3"/>
<text class="n" x="650.2" y="1397.2">«enumeration»</text><text class="t" x="650.2" y="1401.8">OSLO-</text><text class="t" x="650.2" y="1406.9" textLength="44" lengthAdjust="spacingAndGlyphs">TimetablesAndPlanning:</text><text class="t" x="650.2" y="1411.3">:Toegangsmodus</text>
<text class="a" x="635" y="1420">foot</text><text class="a" x="635" y="1424.8">bicycle</text><text class="a" x="635" y="1429.5">car</text><text class="a" x="635" y="1434.3">etc</text>

<rect class="sh" x="711.5" y="1392.7" width="45.4" height="38.7"/><rect class="e" x="710.5" y="1391.7" width="45.4" height="38.7"/><line class="sp" x1="710.5" x2="755.9" y1="1415.3" y2="1415.3"/>
<text class="n" x="733.2" y="1397.2">«enumeration»</text><text class="t" x="733.2" y="1401.8">OSLO-</text><text class="t" x="733.2" y="1406.9" textLength="44" lengthAdjust="spacingAndGlyphs">TimetablesAndPlanning:</text><text class="t" x="733.2" y="1411.3">:Plaatstype</text>
<text class="a" x="718" y="1420">monomodal</text><text class="a" x="718" y="1424.8">general</text>

<rect class="sh" x="782.7" y="1392.7" width="53.6" height="101.3"/><rect class="e" x="781.7" y="1391.7" width="53.6" height="101.3"/><line class="sp" x1="781.7" x2="835.3" y1="1415.3" y2="1415.3"/>
<text class="n" x="808.5" y="1397.2">«enumeration»</text><text class="t" x="808.5" y="1401.8">OSLO-</text><text class="t" x="808.5" y="1406.9" textLength="50" lengthAdjust="spacingAndGlyphs">TimetablesAndPlanning:</text><text class="t" x="808.5" y="1411.3">:Stopplaatstype</text>
<text class="a" x="790" y="1420">onstreetBus</text><text class="a" x="790" y="1424.8">onstreetTram</text><text class="a" x="790" y="1429.6">airport</text><text class="a" x="790" y="1434.4">railStation</text><text class="a" x="790" y="1439.2">busStation</text><text class="a" x="790" y="1444">metroStation</text><text class="a" x="790" y="1448.8">coachStation</text><text class="a" x="790" y="1453.6">tramStation</text><text class="a" x="790" y="1458.4">harbourPort</text><text class="a" x="790" y="1463.2">ferryPort</text><text class="a" x="790" y="1468">ferryStop</text><text class="a" x="790" y="1472.8">liftStation</text><text class="a" x="790" y="1477.6">vehicleRailInterchange</text><text class="a" x="790" y="1482.4">other</text>

<rect class="sh" x="871.4" y="1392.7" width="45" height="101.3"/><rect class="e" x="870.4" y="1391.7" width="45" height="101.3"/><line class="sp" x1="870.4" x2="915.4" y1="1415.3" y2="1415.3"/>
<text class="n" x="892.9" y="1397.2">«enumeration»</text><text class="t" x="892.9" y="1401.8">OSLO-</text><text class="t" x="892.9" y="1406.9" textLength="43" lengthAdjust="spacingAndGlyphs">TimetablesAndPlanning:</text><text class="t" x="892.9" y="1411.3">:Transportmode</text>
<text class="a" x="878" y="1420">air</text><text class="a" x="878" y="1424.8">bus</text><text class="a" x="878" y="1429.6">trolleybus</text><text class="a" x="878" y="1434.4">coach</text><text class="a" x="878" y="1439.2">funicular</text><text class="a" x="878" y="1444">metro</text><text class="a" x="878" y="1448.8">tram</text><text class="a" x="878" y="1453.6">cableway</text><text class="a" x="878" y="1458.4">rail</text><text class="a" x="878" y="1463.2">water</text><text class="a" x="878" y="1468">ferry</text><text class="a" x="878" y="1472.8">lift</text><text class="a" x="878" y="1477.6">taxi</text><text class="a" x="878" y="1482.4">other</text>

<rect class="sh" x="953" y="1392" width="43.5" height="33"/><rect class="e" x="952" y="1391" width="43.5" height="33"/><line class="sp" x1="952" x2="995.5" y1="1406" y2="1406"/>
<text class="n" x="973.7" y="1396.6">«enumeration»</text><text class="t" x="973.7" y="1401.7" textLength="41" lengthAdjust="spacingAndGlyphs">Informatiezuiltype</text><text class="a" x="960" y="1411">analoog</text><text class="a" x="960" y="1416">digitaal</text>

<rect class="sh" x="1028" y="1392" width="40" height="31"/><rect class="e" x="1027" y="1391" width="40" height="31"/><line class="sp" x1="1027" x2="1067" y1="1406" y2="1406"/>
<text class="n" x="1047" y="1396.6">«enumeration»</text><text class="t" x="1047" y="1401.7">Ladertype</text><text class="a" x="1035" y="1411">snelLader</text><text class="a" x="1035" y="1416">gewoneLader</text>

<rect class="sh" x="1106.3" y="1394.6" width="56.1" height="25.8"/><rect class="e" x="1105.3" y="1393.6" width="56.1" height="25.8"/>
<text class="n" x="1133.3" y="1399.2">«enumeration»</text><text class="t" x="1133.3" y="1404.6" textLength="54" lengthAdjust="spacingAndGlyphs">Infrastructuurelementtype</text>

<rect class="sh" x="1195.3" y="1394.6" width="46" height="59.2"/><rect class="e" x="1194.3" y="1393.6" width="46" height="59.2"/><line class="sp" x1="1194.3" x2="1240.3" y1="1413.8" y2="1413.8"/>
<text class="n" x="1217.3" y="1399.2">«enumeration»</text><text class="t" x="1217.3" y="1404.6" textLength="44" lengthAdjust="spacingAndGlyphs">OSLO-Mobiliteit::</text><text class="t" x="1217.3" y="1410">Routetype</text>
<text class="a" x="1203" y="1419">snelst</text><text class="a" x="1203" y="1424.3">kortst</text><text class="a" x="1203" y="1429.5">comfortabelst</text><text class="a" x="1203" y="1434.8">goedkoopst</text><text class="a" x="1203" y="1440">milieuvriendelijkst</text><text class="a" x="1203" y="1445.3">minstOverstappen</text>

<rect class="sh" x="1276.3" y="1394.6" width="39.4" height="53.8"/><rect class="e" x="1275.3" y="1393.6" width="39.4" height="53.8"/><line class="sp" x1="1275.3" x2="1314.7" y1="1419" y2="1419"/>
<text class="n" x="1295" y="1399.2">«enumeration»</text><text class="t" x="1295" y="1404.6">OSLO-</text><text class="t" x="1295" y="1410">Mobiliteit::</text><text class="t" x="1295" y="1415">Resourcetype</text>
<text class="a" x="1283" y="1424.4">zitplaats</text><text class="a" x="1283" y="1429.6">voertuig</text><text class="a" x="1283" y="1434.8">parkeerplaats</text><text class="a" x="1283" y="1440">kamer</text><text class="a" x="1283" y="1445.2">laadpaal</text>

<rect class="sh" x="1348" y="1394.7" width="39" height="65.3"/><rect class="e" x="1347" y="1393.7" width="39" height="65.3"/><line class="sp" x1="1347" x2="1386" y1="1419.7" y2="1419.7"/>
<text class="n" x="1366.5" y="1399.6">«enumeration»</text><text class="t" x="1366.5" y="1405">OSLO-</text><text class="t" x="1366.5" y="1410.2">Mobiliteit::</text><text class="t" x="1366.5" y="1415.4">Resourcestatus</text>
<text class="a" x="1354" y="1424.9">inactief</text><text class="a" x="1354" y="1430.1">verwijderd</text><text class="a" x="1354" y="1435.3">verplaatst</text><text class="a" x="1354" y="1440.5">beschikbaar</text><text class="a" x="1354" y="1445.7">onbeschikbaar</text><text class="a" x="1354" y="1450.9">gereserveerd</text><text class="a" x="1354" y="1456.1">inGebruik</text>

<rect class="sh" x="1425.6" y="1394.8" width="38.4" height="25.9"/><rect class="e" x="1424.6" y="1393.8" width="38.4" height="25.9"/>
<text class="n" x="1443.8" y="1399.6">«enumeration»</text><text class="t" x="1443.8" y="1405">Plugtype</text>

<rect class="sh" x="1495.6" y="1394.8" width="50.4" height="25.9"/><rect class="e" x="1494.6" y="1393.8" width="50.4" height="25.9"/>
<text class="n" x="1519.8" y="1399.6">«enumeration»</text><text class="t" x="1519.8" y="1405" textLength="48" lengthAdjust="spacingAndGlyphs">VervoersmodusOpKaart</text>

<!-- Enumerations row 2 -->
<rect class="sh" x="944" y="1471.8" width="65" height="41.7"/><rect class="e" x="943" y="1470.8" width="65" height="41.7"/><line class="sp" x1="943" x2="1008" y1="1489.6" y2="1489.6"/>
<text class="n" x="975.5" y="1476.5">«enumeration»</text><text class="t" x="975.5" y="1481">OSLO-Mobiliteit::</text><text class="t" x="975.5" y="1486">Aandrijftype</text>
<text class="a" x="950" y="1494.3">spierkracht</text><text class="a" x="950" y="1499.2">elektrischMetOndersteuning</text><text class="a" x="950" y="1504">elektrisch</text><text class="a" x="950" y="1509">verbrandingsmotor</text>

<rect class="sh" x="1030" y="1486" width="38.5" height="27"/><rect class="e" x="1029" y="1485" width="38.5" height="27"/>
<text class="n" x="1048.2" y="1490.5">«enumeration»</text><text class="t" x="1048.2" y="1495.5">OSLO-</text><text class="t" x="1048.2" y="1500.5">Mobiliteit::</text><text class="t" x="1048.2" y="1505.5" textLength="36" lengthAdjust="spacingAndGlyphs">Gebruikerstype</text>

<rect class="sh" x="1108" y="1479.4" width="55.3" height="42.6"/><rect class="e" x="1107" y="1478.4" width="55.3" height="42.6"/><line class="sp" x1="1107" x2="1162.3" y1="1498.8" y2="1498.8"/>
<text class="n" x="1134.6" y="1484.3">«enumeration»</text><text class="t" x="1134.6" y="1489.3">OSLO-Mobiliteit::</text><text class="t" x="1134.6" y="1494.6" textLength="53" lengthAdjust="spacingAndGlyphs">Toegankelijkheidsniveau</text>
<text class="a" x="1114" y="1503.6">ZelfstandigToegankelijk</text><text class="a" x="1114" y="1508.9">MetHulpToegankelijk</text><text class="a" x="1114" y="1514.2">NietToegankelijk</text>

<rect class="sh" x="1198.5" y="1478.6" width="38.7" height="36.8"/><rect class="e" x="1197.5" y="1477.6" width="38.7" height="36.8"/><line class="sp" x1="1197.5" x2="1236.2" y1="1498" y2="1498"/>
<text class="n" x="1216.8" y="1483.2">«enumeration»</text><text class="t" x="1216.8" y="1488.4">INSPIRE-</text><text class="t" x="1216.8" y="1493.6">Netwerk::Teken</text>
<text class="a" x="1206" y="1503">plus</text><text class="a" x="1206" y="1508.2">min</text>

<rect class="sh" x="1272" y="1478.3" width="48" height="64.7"/><rect class="e" x="1271" y="1477.3" width="48" height="64.7"/><line class="sp" x1="1271" x2="1319" y1="1503" y2="1503"/>
<text class="n" x="1295" y="1483">«enumeration»</text><text class="t" x="1295" y="1488.2">INSPIRE-</text><text class="t" x="1295" y="1493.4">Transportnetwerk::</text><text class="t" x="1295" y="1498.4" textLength="46" lengthAdjust="spacingAndGlyphs">Toegankelijkheidstype</text>
<text class="a" x="1277" y="1508">verbodenToegang</text><text class="a" x="1277" y="1513.2">fysiekOntoegankelijk</text><text class="a" x="1277" y="1518.4">privaat</text><text class="a" x="1277" y="1523.6">publiekToegankelijk</text><text class="a" x="1277" y="1528.8">seizonaal</text><text class="a" x="1277" y="1534">tolgeld</text>

<rect class="sh" x="1341.4" y="1475.7" width="59.6" height="65.1"/><rect class="e" x="1340.4" y="1474.7" width="59.6" height="65.1"/><line class="sp" x1="1340.4" x2="1400" y1="1495.3" y2="1495.3"/>
<text class="n" x="1370.2" y="1480.7">«enumeration»</text><text class="t" x="1370.2" y="1486">OSLO-Mobiliteit::</text><text class="t" x="1370.2" y="1491" textLength="57" lengthAdjust="spacingAndGlyphs">Toegankelijkheidsonderdeel</text>
<text class="a" x="1350" y="1500.3">parkeerplaats</text><text class="a" x="1350" y="1505.5">inkom</text><text class="a" x="1350" y="1510.7">toilet</text><text class="a" x="1350" y="1515.9">lift</text><text class="a" x="1350" y="1521.1">website</text><text class="a" x="1350" y="1526.3">infobalie</text><text class="a" x="1350" y="1531.5">etc</text>

<rect class="sh" x="1425.6" y="1473.2" width="38.9" height="53.6"/><rect class="e" x="1424.6" y="1472.2" width="38.9" height="53.6"/><line class="sp" x1="1424.6" x2="1463.5" y1="1497" y2="1497"/>
<text class="n" x="1444" y="1478">«enumeration»</text><text class="t" x="1444" y="1483">INSPIRE-</text><text class="t" x="1444" y="1488.4" textLength="37" lengthAdjust="spacingAndGlyphs">Transportnetwerk:</text><text class="t" x="1444" y="1493.6">:Voertuigtype</text>
<text class="a" x="1432" y="1502">fiets</text><text class="a" x="1432" y="1507.2">auto</text><text class="a" x="1432" y="1512.4">voetganger</text><text class="a" x="1432" y="1517.6">bus</text>

<rect class="sh" x="1501" y="1470.5" width="39" height="59.2"/><rect class="e" x="1500" y="1469.5" width="39" height="59.2"/><line class="sp" x1="1500" x2="1539" y1="1495.3" y2="1495.3"/>
<text class="n" x="1519.5" y="1475.3">«enumeration»</text><text class="t" x="1519.5" y="1480.3">INSPIRE-</text><text class="t" x="1519.5" y="1485.7" textLength="37" lengthAdjust="spacingAndGlyphs">Transportnetwerk:</text><text class="t" x="1519.5" y="1490.8">:Transporttype</text>
<text class="a" x="1507" y="1500.3">lucht</text><text class="a" x="1507" y="1505.5">kabel</text><text class="a" x="1507" y="1510.7">trein</text><text class="a" x="1507" y="1515.9">weg</text><text class="a" x="1507" y="1521.1">water</text>
</svg>
</body></html>
